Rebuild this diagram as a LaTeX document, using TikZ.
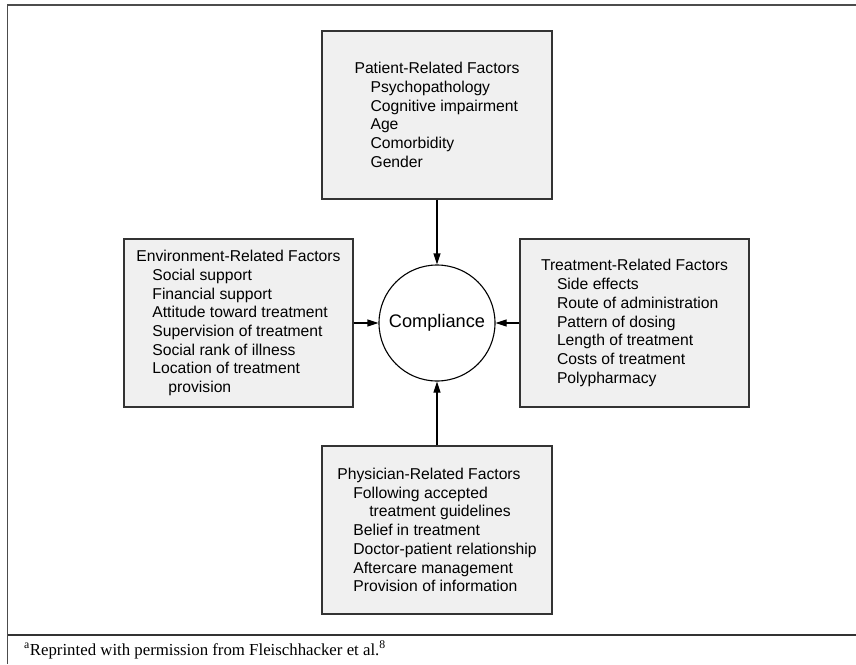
\documentclass[tikz,border=0pt]{standalone}
\usepackage{fontspec}
\setmainfont{Liberation Sans}
\newfontfamily\notefont{Liberation Serif}
\usetikzlibrary{positioning,arrows.meta}
\tikzset{>={Triangle[length=11pt,width=7pt]}}
\newcommand{\ind}{\hspace*{16pt}}

\begin{document}
\begin{tikzpicture}[x=1pt,y=-1pt,
  factor/.style={draw=black!80,fill=black!6,line width=1.2pt,minimum width=230pt,minimum height=168pt,align=left,font=\fontsize{15.7}{18.7}\selectfont},
  link/.style={->,line width=1.1pt}]
\useasboundingbox (0,0) rectangle (856,664);
\draw[black!70,line width=1.2pt] (856,5) -- (7.5,5) -- (7.5,664);
\draw[black!80,line width=1.2pt] (7.5,635) -- (856,635);
\node[draw,fill=white,circle,minimum size=116pt,line width=1.1pt,font=\fontsize{18.2}{20}\selectfont] (comp) at (437,323) {Compliance};
\node[factor] (patient) at (437,115) {Patient-Related Factors\\ \ind Psychopathology\\ \ind Cognitive impairment\\ \ind Age\\ \ind Comorbidity\\ \ind Gender};
\node[factor,minimum width=229pt] (env) at (238.5,323) {Environment-Related Factors\\ \ind Social support\\ \ind Financial support\\ \ind Attitude toward treatment\\ \ind Supervision of treatment\\ \ind Social rank of illness\\ \ind Location of treatment\\ \ind\ind provision};
\node[factor,minimum width=229pt] (treat) at (634.5,323) {Treatment-Related Factors\\ \ind Side effects\\ \ind Route of administration\\ \ind Pattern of dosing\\ \ind Length of treatment\\ \ind Costs of treatment\\ \ind Polypharmacy};
\node[factor] (phys) at (437,530) {Physician-Related Factors\\ \ind Following accepted\\ \ind\ind treatment guidelines\\ \ind Belief in treatment\\ \ind Doctor-patient relationship\\ \ind Aftercare management\\ \ind Provision of information};
\draw[link] (patient) -- (comp);
\draw[link] (env) -- (comp);
\draw[link] (treat) -- (comp);
\draw[link] (phys) -- (comp);
\node[anchor=base west,inner sep=0pt,font=\notefont\fontsize{16.8}{20}\selectfont] (note) at (24,655) {\textsuperscript{a}Reprinted with permission from Fleischhacker et al.\textsuperscript{8}};
\end{tikzpicture}
\end{document}
